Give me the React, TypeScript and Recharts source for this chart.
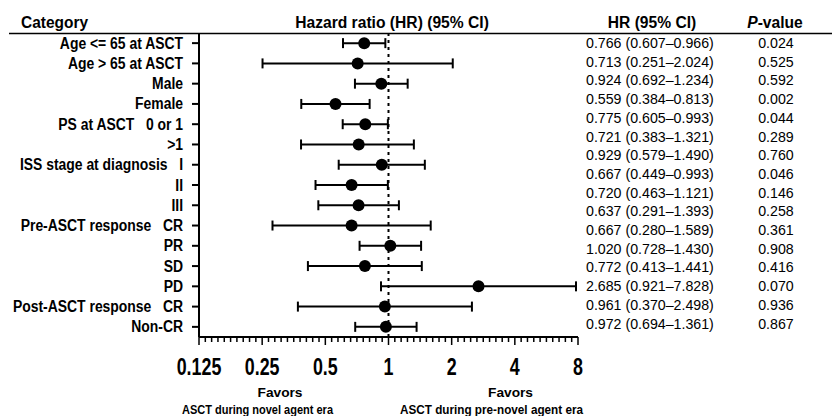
import React from "react";
import { ComposedChart, Scatter, ErrorBar, XAxis, YAxis, ReferenceLine } from "recharts";

// plotted rows
const rowLabels = [
  "Age <= 65 at ASCT",
  "Age > 65 at ASCT",
  "Male",
  "Female",
  "PS at ASCT   0 or 1",
  ">1",
  "ISS stage at diagnosis   I",
  "II",
  "III",
  "Pre-ASCT response   CR",
  "PR",
  "SD",
  "PD",
  "Post-ASCT response   CR",
  "Non-CR",
];
const hr = [0.766, 0.713, 0.924, 0.559, 0.775, 0.721, 0.929, 0.667, 0.72, 0.667, 1.02, 0.772, 2.685, 0.961, 0.972];
const ciLow = [0.607, 0.251, 0.692, 0.384, 0.605, 0.383, 0.579, 0.449, 0.463, 0.28, 0.728, 0.413, 0.921, 0.37, 0.694];
const ciHigh = [0.966, 2.024, 1.234, 0.813, 0.993, 1.321, 1.49, 0.993, 1.121, 1.589, 1.43, 1.441, 7.828, 2.498, 1.361];

// right-hand table (as printed)
const tableHr = [
  "0.766 (0.607–0.966)",
  "0.713 (0.251–2.024)",
  "0.924 (0.692–1.234)",
  "0.559 (0.384–0.813)",
  "0.775 (0.605–0.993)",
  "0.721 (0.383–1.321)",
  "0.929 (0.579–1.490)",
  "0.667 (0.449–0.993)",
  "0.720 (0.463–1.121)",
  "0.637 (0.291–1.393)",
  "0.667 (0.280–1.589)",
  "1.020 (0.728–1.430)",
  "0.772 (0.413–1.441)",
  "2.685 (0.921–7.828)",
  "0.961 (0.370–2.498)",
  "0.972 (0.694–1.361)",
];
const tableP = [
  "0.024", "0.525", "0.592", "0.002", "0.044", "0.289", "0.760", "0.046",
  "0.146", "0.258", "0.361", "0.908", "0.416", "0.070", "0.936", "0.867",
];

const majorTicks = [0.125, 0.25, 0.5, 1, 2, 4, 8];
const majorLabels = ["0.125", "0.25", "0.5", "1", "2", "4", "8"];
const minorPerOctave = 9;

const data = rowLabels.map((label, i) => ({
  row: i,
  label,
  hr: hr[i],
  err: [hr[i] - ciLow[i], ciHigh[i] - hr[i]],
}));

const allTicks: number[] = [];
for (let o = 0; o < majorTicks.length; o++) {
  allTicks.push(majorTicks[o]);
  if (o < majorTicks.length - 1) {
    for (let k = 1; k <= minorPerOctave; k++) {
      allTicks.push(majorTicks[o] * Math.pow(2, k / (minorPerOctave + 1)));
    }
  }
}

const FONT = "'Liberation Sans', Arial, sans-serif";

// condensed bold text (the original uses a narrow face)
const NText = ({ x, y, sx = 1, size, anchor = "start", bold = true, children }: any) => (
  <text
    transform={`translate(${x},${y}) scale(${sx},1)`}
    textAnchor={anchor}
    fontFamily={FONT}
    fontWeight={bold ? "bold" : "normal"}
    fontSize={size}
    fill="#000"
    style={{ whiteSpace: "pre" }}
  >
    {children}
  </text>
);

// text squeezed to a given width
const FitText = ({ x, y, w, size, children }: any) => (
  <text
    x={x - w / 2}
    y={y}
    textLength={w}
    lengthAdjust="spacingAndGlyphs"
    fontFamily={FONT}
    fontWeight="bold"
    fontSize={size}
    fill="#000"
  >
    {children}
  </text>
);

const YTick = (props: any) => {
  const { x, y, payload } = props;
  return (
    <NText x={x} y={y + 5.5} sx={0.87} size={16} anchor="end">
      {rowLabels[payload.value]}
    </NText>
  );
};

const XTick = (props: any) => {
  const { x, y, payload } = props;
  const idx = majorTicks.indexOf(payload.value);
  const major = idx >= 0;
  return (
    <g>
      <line x1={x} x2={x} y1={y} y2={y + (major ? 8 : 5)} stroke="#000" strokeWidth={1.5} />
      {major && (
        <NText x={x} y={y + 38} sx={0.76} size={23.5} anchor="middle">
          {majorLabels[idx]}
        </NText>
      )}
    </g>
  );
};

const Dot = (props: any) => <circle cx={props.cx} cy={props.cy} r={6} fill="#000" />;

export default function App() {
  return (
    <div style={{ position: "absolute", left: 0, top: 0, width: 832, height: 416, background: "#fff" }}>
      <ComposedChart width={832} height={416} margin={{ top: 33, right: 254, bottom: 0, left: 0 }}>
        <XAxis
          type="number"
          dataKey="hr"
          scale="log"
          domain={[0.125, 8]}
          ticks={allTicks}
          interval={0}
          allowDataOverflow
          height={79}
          tickSize={0}
          tickMargin={0}
          tickLine={false}
          axisLine={{ stroke: "#000", strokeWidth: 2 }}
          tick={<XTick />}
        />
        <YAxis
          type="number"
          dataKey="row"
          domain={[-0.5, 14.5]}
          reversed
          ticks={rowLabels.map((_, i) => i)}
          interval={0}
          width={199}
          tickSize={7}
          tickMargin={9}
          tickLine={{ stroke: "#000", strokeWidth: 2 }}
          axisLine={{ stroke: "#000", strokeWidth: 2 }}
          tick={<YTick />}
        />
        <ReferenceLine x={1} stroke="#000" strokeWidth={2} strokeDasharray="3 4" />
        <Scatter data={data} dataKey="hr" shape={<Dot />} isAnimationActive={false}>
          <ErrorBar dataKey="err" direction="x" width={5} stroke="#000" strokeWidth={2} />
        </Scatter>
      </ComposedChart>

      <svg
        width={832}
        height={416}
        style={{ position: "absolute", left: 0, top: 0, pointerEvents: "none" }}
        fontFamily={FONT}
      >
        <line x1={9} x2={832} y1={33.5} y2={33.5} stroke="#000" strokeWidth={1.5} />
        <NText x={21} y={28} sx={0.91} size={17}>Category</NText>
        <NText x={392} y={28} sx={0.92} size={17} anchor="middle">Hazard ratio (HR) (95% CI)</NText>
        <NText x={652} y={28} sx={0.92} size={17} anchor="middle">HR (95% CI)</NText>
        <NText x={775} y={28} sx={0.92} size={17} anchor="middle">
          <tspan fontStyle="italic">P</tspan>-value
        </NText>
        {tableHr.map((s, i) => (
          <text key={"h" + i} x={586} y={48 + i * 18.7} fontSize={14.2}>{s}</text>
        ))}
        {tableP.map((s, i) => (
          <text key={"p" + i} x={776} y={48 + i * 18.7} fontSize={14.2} textAnchor="middle">{s}</text>
        ))}
        <FitText x={280} y={397} w={45} size={12.5}>Favors</FitText>
        <FitText x={257.5} y={413.5} w={151} size={13.5}>ASCT during novel agent era</FitText>
        <FitText x={510.5} y={397} w={45} size={12.5}>Favors</FitText>
        <FitText x={491.5} y={413.5} w={183} size={13.5}>ASCT during pre-novel agent era</FitText>
      </svg>
    </div>
  );
}
